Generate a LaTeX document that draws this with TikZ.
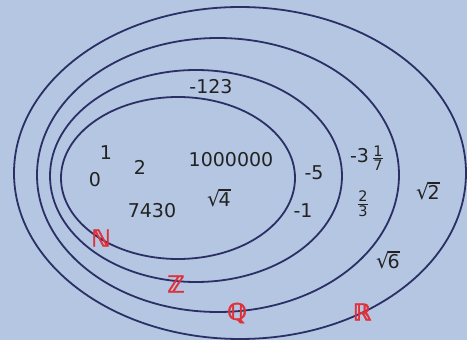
\documentclass[tikz,border=0pt]{standalone}
\usepackage{amsmath}
\usepackage{fontspec}
\setmainfont{DejaVu Sans}
\newfontfamily\doppia[FakeBold=2]{DejaVu Sans}
\usetikzlibrary{positioning}
\definecolor{Sfondo}{HTML}{B4C6E2}
\definecolor{Bordo}{HTML}{2C2F66}
\definecolor{Testo}{HTML}{222222}
\definecolor{Insieme}{HTML}{E0303A}
\newlength\radw
\newcommand\radice[1]{\settowidth\radw{#1}{\fontsize{21}{21}\selectfont √}\kern-0.1em\rlap{\rule[0.83em]{\radw}{0.08em}}#1}
\newcommand\fraz[2]{$\genfrac{}{}{0.9pt}{}{\hbox{\fontsize{14.5}{14.5}\selectfont#1}}{\hbox{\fontsize{14.5}{14.5}\selectfont#2}}$}
\tikzset{
    insieme/.style={draw=Bordo, line width=1.8pt},
    numero/.style={text=Testo, font=\fontsize{19}{21}\selectfont, inner sep=0pt},
    simbolo/.style={text=Insieme, font=\doppia\bfseries\fontsize{23}{24}\selectfont, inner sep=0pt},
}

\begin{document}
\begin{tikzpicture}[x=1pt, y=-1pt]
    % Sfondo
    \fill[Sfondo] (0,0) rectangle (467,340);
    \useasboundingbox (0,0) rectangle (467,340);

    % Insiemi annidati
    \draw[insieme] (240,173) ellipse [x radius=226, y radius=166];
    \draw[insieme] (218,175) ellipse [x radius=181, y radius=137];
    \draw[insieme] (196,176) ellipse [x radius=146, y radius=106];
    \draw[insieme] (178,178) ellipse [x radius=117, y radius=81];

    % Numeri naturali
    \node[numero] (uno) at (106,153) {1};
    \node[numero] (zero) at (95,180) {0};
    \node[numero] (due) at (140,167) {2};
    \node[numero] (milione) at (231,160) {1000000};
    \node[numero] (rquattro) at (219,198) {\radice{4}};
    \node[numero] (settemila) at (152,211) {7430};

    % Interi
    \node[numero] (meno123) at (211,87) {-123};
    \node[numero] (meno5) at (314,173) {-5};
    \node[numero] (meno1) at (303,211) {-1};

    % Razionali
    \node[numero] (misto) at (367,158) {-3\,\fraz{1}{7}};
    \node[numero] (duetrzi) at (363,204) {\fraz{2}{3}};

    % Reali
    \node[numero] (rdue) at (428,191) {\radice{2}};
    \node[numero] (rsei) at (388,260) {\radice{6}};

    % Nomi degli insiemi
    \node[simbolo] (nat) at (101,238) {ℕ};
    \node[simbolo] (int) at (176,284) {ℤ};
    \node[simbolo] (raz) at (237,313) {ℚ};
    \node[simbolo] (rea) at (362,312) {ℝ};
\end{tikzpicture}
\end{document}
